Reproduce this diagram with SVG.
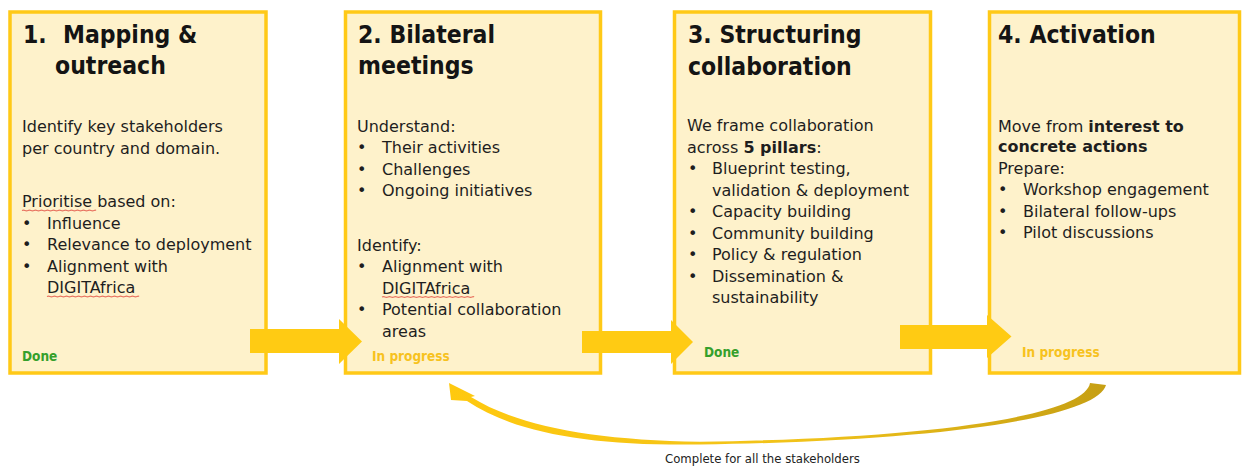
<svg xmlns="http://www.w3.org/2000/svg" width="1243" height="466" viewBox="0 0 1243 466">
  <style>
    .box { fill: #FEF2CB; stroke: #FFC917; stroke-width: 3.5; }
    .title { font-family: 'DejaVu Sans Condensed', 'DejaVu Sans', sans-serif; font-stretch: condensed; font-weight: bold; font-size: 24.5px; fill: #141414; }
    .body { font-family: 'DejaVu Sans', 'Liberation Sans', sans-serif; font-size: 16px; fill: #1E1E1E; }
    .b { font-weight: bold; }
    .done { font-family: 'DejaVu Sans Condensed', 'DejaVu Sans', sans-serif; font-stretch: condensed; font-weight: bold; font-size: 13.5px; fill: #35A02B; }
    .prog { font-family: 'DejaVu Sans Condensed', 'DejaVu Sans', sans-serif; font-stretch: condensed; font-weight: bold; font-size: 13.5px; fill: #F7C21E; }
    .note { font-family: 'DejaVu Sans Condensed', 'DejaVu Sans', sans-serif; font-stretch: condensed; font-size: 13px; fill: #222222; }
    .squiggle { fill: none; stroke: #E8705E; stroke-width: 1.3; }
    .flow { fill: #FFCB13; }
  </style>
  <defs>
    <linearGradient id="loopGrad" gradientUnits="userSpaceOnUse" x1="1100" y1="0" x2="450" y2="0">
      <stop offset="0" stop-color="#C7A014"/>
      <stop offset="0.45" stop-color="#F0C21A"/>
      <stop offset="1" stop-color="#FFC90F"/>
    </linearGradient>
  </defs>

  <!-- Step 1 -->
  <g id="step1">
    <rect class="box" x="10" y="12" width="256" height="361"/>
    <text class="title" x="23" y="43">1.</text>
    <text class="title" x="63" y="43">Mapping &amp;</text>
    <text class="title" x="55" y="74">outreach</text>
    <text class="body" x="22" y="132">Identify key stakeholders</text>
    <text class="body" x="22" y="153.5">per country and domain.</text>
    <text class="body" x="22" y="207">Prioritise based on:</text>
    <path class="squiggle" d="M22,210.5 q1.5,-0.6 3,0 t3,0 t3,0 t3,0 t3,0 t3,0 t3,0 t3,0 t3,0 t3,0 t3,0 t3,0 t3,0 t3,0 t3,0 t3,0 t3,0 t3,0 t3,0 t3,0 t3,0 t3,0 t3,0 t3,0 t2,0"/>
    <text class="body" x="22" y="228.5">•</text>
    <text class="body" x="47" y="228.5">Influence</text>
    <text class="body" x="22" y="250">•</text>
    <text class="body" x="47" y="250">Relevance to deployment</text>
    <text class="body" x="22" y="271.5">•</text>
    <text class="body" x="47" y="271.5">Alignment with</text>
    <text class="body" x="47" y="293">DIGITAfrica</text>
    <path class="squiggle" d="M47,296.5 q1.5,-0.6 3,0 t3,0 t3,0 t3,0 t3,0 t3,0 t3,0 t3,0 t3,0 t3,0 t3,0 t3,0 t3,0 t3,0 t3,0 t3,0 t3,0 t3,0 t3,0 t3,0 t3,0 t3,0 t3,0 t3,0 t3,0 t3,0 t3,0 t3,0 t3,0 t3,0 t2,0"/>
    <text class="done" x="22" y="361">Done</text>
  </g>

  <!-- Step 2 -->
  <g id="step2">
    <rect class="box" x="345.5" y="12" width="255" height="361"/>
    <text class="title" x="358" y="43">2. Bilateral</text>
    <text class="title" x="358" y="74">meetings</text>
    <text class="body" x="357" y="132">Understand:</text>
    <text class="body" x="357" y="153">•</text>
    <text class="body" x="382" y="153">Their activities</text>
    <text class="body" x="357" y="174.5">•</text>
    <text class="body" x="382" y="174.5">Challenges</text>
    <text class="body" x="357" y="196">•</text>
    <text class="body" x="382" y="196">Ongoing initiatives</text>
    <text class="body" x="357" y="250.5">Identify:</text>
    <text class="body" x="357" y="272">•</text>
    <text class="body" x="382" y="272">Alignment with</text>
    <text class="body" x="382" y="293.5">DIGITAfrica</text>
    <path class="squiggle" d="M382,297 q1.5,-0.6 3,0 t3,0 t3,0 t3,0 t3,0 t3,0 t3,0 t3,0 t3,0 t3,0 t3,0 t3,0 t3,0 t3,0 t3,0 t3,0 t3,0 t3,0 t3,0 t3,0 t3,0 t3,0 t3,0 t3,0 t3,0 t3,0 t3,0 t3,0 t3,0 t3,0 t2,0"/>
    <text class="body" x="357" y="315">•</text>
    <text class="body" x="382" y="315">Potential collaboration</text>
    <text class="body" x="382" y="336.5">areas</text>
    <text class="prog" x="372" y="361">In progress</text>
  </g>

  <!-- Step 3 -->
  <g id="step3">
    <rect class="box" x="674.5" y="12" width="256" height="361"/>
    <text class="title" x="688" y="43">3. Structuring</text>
    <text class="title" x="688" y="75">collaboration</text>
    <text class="body" x="687" y="131">We frame collaboration</text>
    <text class="body" x="687" y="152.5">across <tspan class="b">5 pillars</tspan>:</text>
    <text class="body" x="688" y="174">•</text>
    <text class="body" x="712" y="174">Blueprint testing,</text>
    <text class="body" x="712" y="195.5">validation &amp; deployment</text>
    <text class="body" x="688" y="217">•</text>
    <text class="body" x="712" y="217">Capacity building</text>
    <text class="body" x="688" y="238.5">•</text>
    <text class="body" x="712" y="238.5">Community building</text>
    <text class="body" x="688" y="260">•</text>
    <text class="body" x="712" y="260">Policy &amp; regulation</text>
    <text class="body" x="688" y="281.5">•</text>
    <text class="body" x="712" y="281.5">Dissemination &amp;</text>
    <text class="body" x="712" y="303">sustainability</text>
    <text class="done" x="704" y="357">Done</text>
  </g>

  <!-- Step 4 -->
  <g id="step4">
    <rect class="box" x="989.5" y="12" width="250" height="361"/>
    <text class="title" x="998" y="43">4. Activation</text>
    <text class="body" x="998" y="131.5">Move from <tspan class="b">interest to</tspan></text>
    <text class="body b" x="998" y="152">concrete actions</text>
    <text class="body" x="998" y="173.5">Prepare:</text>
    <text class="body" x="998" y="195">•</text>
    <text class="body" x="1023" y="195">Workshop engagement</text>
    <text class="body" x="998" y="216.5">•</text>
    <text class="body" x="1023" y="216.5">Bilateral follow-ups</text>
    <text class="body" x="998" y="238">•</text>
    <text class="body" x="1023" y="238">Pilot discussions</text>
    <text class="prog" x="1022" y="357">In progress</text>
  </g>

  <!-- Connectors -->
  <g id="connectors">
    <path class="flow" d="M250,329 H339 V319 L362,341.5 L339,364 V353 H250 Z"/>
    <path class="flow" d="M582,331 H671 V320 L693,342 L671,364 V353 H582 Z"/>
    <path class="flow" d="M900,325 H987 V315 L1011.5,336.5 L987,358 V349 H900 Z"/>
    <!-- return loop from activation back to bilateral meetings -->
    <path fill="url(#loopGrad)" d="M1106,385 C1098,416 950,441 700,444.5 C590,446 515,433 467,401 L451,400 L449,383 L475,396 L471,397 C518,426 592,440 700,441.8 C945,438 1085,414 1090,383 Z"/>
    <text class="note" x="665" y="463">Complete for all the stakeholders</text>
  </g>
</svg>
